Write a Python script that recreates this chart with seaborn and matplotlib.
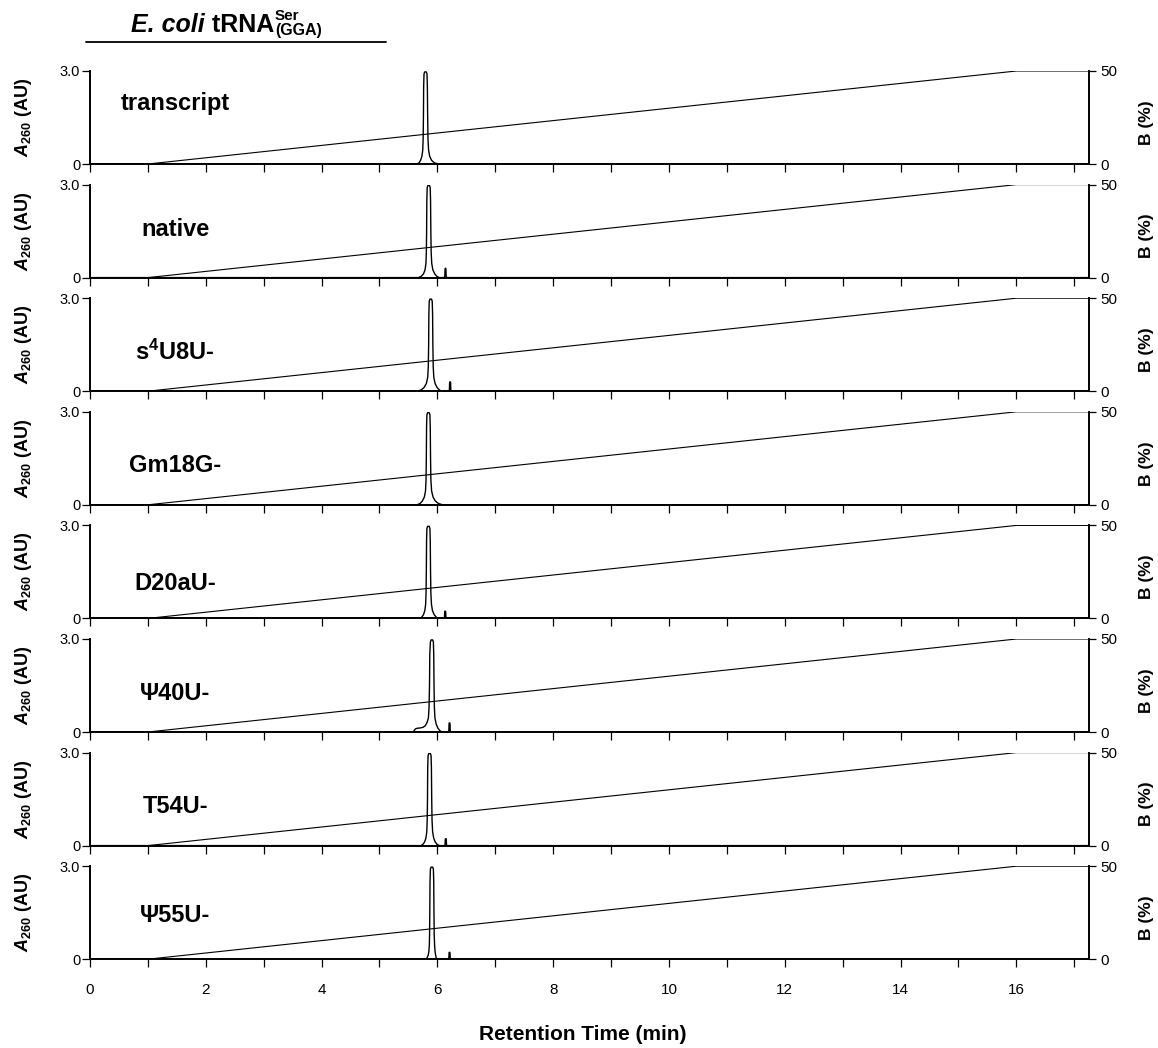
import matplotlib
matplotlib.use("Agg")
import matplotlib.pyplot as plt
import seaborn as sns
import pandas as pd

sns.set_theme(style="ticks")
plt.rcParams["font.family"] = ["Liberation Sans", "DejaVu Sans"]
plt.rcParams["text.color"] = "black"
plt.rcParams["axes.labelcolor"] = "black"
plt.rcParams["xtick.color"] = "black"
plt.rcParams["ytick.color"] = "black"
plt.rcParams["mathtext.fontset"] = "custom"
plt.rcParams["mathtext.rm"] = "Liberation Sans"
plt.rcParams["mathtext.it"] = "Liberation Sans:italic"
plt.rcParams["mathtext.bf"] = "Liberation Sans:bold"
try:
    plt.rcParams["mathtext.bfit"] = "Liberation Sans:bold:italic"
except KeyError:
    pass

# ---------------- data ----------------
sample_names = ["transcript", "native", r"s$^{\mathbf{4}}$U8U-", "Gm18G-",
                "D20aU-", "Ψ40U-", "T54U-", "Ψ55U-"]
label_y = [1.96, 1.54, 1.24, 1.27, 1.13, 1.24, 1.27, 1.40]

gradient_time = [0.0, 1.0, 16.0, 17.26]
gradient_B = [0, 0, 50, 50]

transcript_t = [0.0, 5.645, 5.685, 5.71, 5.733, 5.747, 5.754, 5.759, 5.763, 5.769, 5.781,
                5.809, 5.821, 5.827, 5.832, 5.838, 5.848, 5.867, 5.90, 5.945, 6.02, 17.26]
transcript_a = [0, 0, 0.04, 0.12, 0.25, 0.45, 0.8, 1.5, 2.5, 2.9, 2.97,
                2.97, 2.9, 2.5, 1.5, 0.8, 0.45, 0.25, 0.12, 0.04, 0, 0]

native_t = [0.0, 5.67, 5.72, 5.76, 5.787, 5.802, 5.809, 5.814, 5.818, 5.824, 5.836,
            5.864, 5.876, 5.882, 5.887, 5.893, 5.903, 5.922, 5.955, 5.99, 6.035,
            6.115, 6.128, 6.132, 6.136, 6.144, 6.148, 6.152, 6.165, 17.26]
native_a = [0, 0, 0.04, 0.12, 0.25, 0.45, 0.8, 1.5, 2.5, 2.9, 2.97,
            2.97, 2.9, 2.5, 1.5, 0.8, 0.45, 0.25, 0.12, 0.04, 0,
            0, 0.04, 0.25, 0.30, 0.30, 0.25, 0.04, 0, 0]

s4U8U_t = [0.0, 5.645, 5.72, 5.77, 5.81, 5.833, 5.843, 5.849, 5.853, 5.859, 5.871,
           5.899, 5.911, 5.917, 5.922, 5.928, 5.938, 5.96, 5.995, 6.035, 6.075,
           6.20, 6.208, 6.211, 6.214, 6.226, 6.229, 6.232, 6.24, 17.26]
s4U8U_a = [0, 0, 0.04, 0.12, 0.25, 0.45, 0.8, 1.5, 2.5, 2.9, 2.97,
           2.97, 2.9, 2.5, 1.5, 0.8, 0.45, 0.25, 0.12, 0.04, 0,
           0, 0.05, 0.24, 0.30, 0.30, 0.24, 0.05, 0, 0]

Gm18G_t = [0.0, 5.645, 5.70, 5.74, 5.775, 5.795, 5.804, 5.809, 5.813, 5.819, 5.831,
           5.859, 5.871, 5.877, 5.882, 5.888, 5.90, 5.925, 5.965, 6.02, 6.09, 17.26]
Gm18G_a = [0, 0, 0.04, 0.12, 0.25, 0.45, 0.8, 1.5, 2.5, 2.9, 2.97,
           2.97, 2.9, 2.5, 1.5, 0.8, 0.45, 0.25, 0.12, 0.04, 0, 0]

D20aU_t = [0.0, 5.69, 5.73, 5.76, 5.783, 5.797, 5.804, 5.809, 5.813, 5.819, 5.831,
           5.859, 5.871, 5.877, 5.882, 5.888, 5.898, 5.915, 5.945, 5.98, 6.02,
           6.115, 6.123, 6.126, 6.129, 6.141, 6.144, 6.147, 6.155, 17.26]
D20aU_a = [0, 0, 0.04, 0.12, 0.25, 0.45, 0.8, 1.5, 2.5, 2.9, 2.97,
           2.97, 2.9, 2.5, 1.5, 0.8, 0.45, 0.25, 0.12, 0.04, 0,
           0, 0.04, 0.18, 0.23, 0.23, 0.18, 0.04, 0, 0]

Psi40U_t = [0.0, 5.585, 5.60, 5.62, 5.65, 5.70, 5.75, 5.79, 5.82, 5.845, 5.856, 5.864,
            5.869, 5.879, 5.891, 5.919, 5.931, 5.937, 5.942, 5.948, 5.958, 5.98, 6.01,
            6.045, 6.075, 6.19, 6.198, 6.201, 6.204, 6.216, 6.219, 6.222, 6.23, 17.26]
Psi40U_a = [0, 0, 0.05, 0.10, 0.12, 0.13, 0.15, 0.2, 0.3, 0.45, 0.8, 1.5,
            2.5, 2.9, 2.97, 2.97, 2.9, 2.5, 1.5, 0.8, 0.45, 0.25, 0.12,
            0.04, 0, 0, 0.05, 0.23, 0.29, 0.29, 0.23, 0.05, 0, 0]

T54U_t = [0.0, 5.715, 5.75, 5.78, 5.803, 5.817, 5.824, 5.829, 5.833, 5.839, 5.851,
          5.879, 5.891, 5.897, 5.902, 5.908, 5.918, 5.935, 5.962, 5.995, 6.035,
          6.125, 6.133, 6.136, 6.139, 6.151, 6.154, 6.157, 6.165, 17.26]
T54U_a = [0, 0, 0.04, 0.12, 0.25, 0.45, 0.8, 1.5, 2.5, 2.9, 2.97,
          2.97, 2.9, 2.5, 1.5, 0.8, 0.45, 0.25, 0.12, 0.04, 0,
          0, 0.04, 0.17, 0.22, 0.22, 0.17, 0.04, 0, 0]

Psi55U_t = [0.0, 5.79, 5.82, 5.84, 5.853, 5.861, 5.865, 5.869, 5.873, 5.879, 5.891,
            5.919, 5.931, 5.937, 5.941, 5.945, 5.952, 5.96, 5.97, 5.98, 5.99,
            6.19, 6.198, 6.201, 6.204, 6.216, 6.219, 6.222, 6.23, 17.26]
Psi55U_a = [0, 0, 0.04, 0.12, 0.25, 0.45, 0.8, 1.5, 2.5, 2.9, 2.97,
            2.97, 2.9, 2.5, 1.5, 0.8, 0.45, 0.25, 0.12, 0.04, 0,
            0, 0.04, 0.17, 0.22, 0.22, 0.17, 0.04, 0, 0]

traces_t = [transcript_t, native_t, s4U8U_t, Gm18G_t, D20aU_t, Psi40U_t, T54U_t, Psi55U_t]
traces_a = [transcript_a, native_a, s4U8U_a, Gm18G_a, D20aU_a, Psi40U_a, T54U_a, Psi55U_a]

x_ticks = list(range(0, 18))
x_ticklabels = [str(v) if v % 2 == 0 else "" for v in x_ticks]

# ---------------- figure ----------------
W, H = 1158, 1048
fig = plt.figure(figsize=(W / 100, H / 100), dpi=100)
fig.patch.set_facecolor("white")

left_px, right_px = 90, 1089.3
top0_px, step_px, hgt_px = 71.0, 113.6, 93.0
spine_lw = 1.4

for i in range(8):
    top = top0_px + i * step_px
    bottom = top + hgt_px
    ax = fig.add_axes([left_px / W, 1 - bottom / H, (right_px - left_px) / W, hgt_px / H])
    ax.set_facecolor("none")
    df = pd.DataFrame({"t": traces_t[i], "a": traces_a[i]})
    sns.lineplot(data=df, x="t", y="a", ax=ax, color="black", lw=1.0,
                 estimator=None, sort=False)
    ax.set_xlim(0, 17.26)
    ax.set_ylim(0, 3.0)
    ax.set_yticks([0, 3.0])
    ax.set_yticklabels(["0", "3.0"])
    ax.set_xticks(x_ticks)
    if i == 7:
        ax.set_xticklabels(x_ticklabels)
    else:
        ax.set_xticklabels([""] * len(x_ticks))
    ax.set_xlabel("")
    ax.set_ylabel("")
    ax.tick_params(axis="y", direction="out", length=6, width=0.9, pad=1,
                   labelsize=10.5, colors="black")
    ax.tick_params(axis="x", direction="out", length=6, width=0.9, pad=11,
                   labelsize=11, colors="black")
    for s in ["top", "right"]:
        ax.spines[s].set_visible(False)
    for s in ["left", "bottom"]:
        ax.spines[s].set_linewidth(spine_lw)
        ax.spines[s].set_color("black")
    ax.grid(False)

    ax2 = ax.twinx()
    sns.lineplot(x=gradient_time, y=gradient_B, ax=ax2, color="black", lw=0.8,
                 estimator=None, sort=False)
    ax2.set_ylim(0, 50)
    ax2.set_yticks([0, 50])
    ax2.set_yticklabels(["0", "50"])
    ax2.set_ylabel("")
    ax2.tick_params(axis="y", direction="out", length=5, width=0.9, pad=3,
                    labelsize=11, colors="black")
    for s in ["top", "left", "bottom"]:
        ax2.spines[s].set_visible(False)
    ax2.spines["right"].set_linewidth(spine_lw)
    ax2.spines["right"].set_color("black")
    ax2.grid(False)

    ax.text(1.47, label_y[i], sample_names[i], ha="center", va="center",
            fontsize=17, fontweight="bold", color="black")

    mid = (top + bottom) / 2
    fig.text(23 / W, 1 - mid / H, r"$\mathbfit{A}_{\mathbf{260}}$ (AU)", rotation=90,
             ha="center", va="center", fontsize=13, fontweight="bold")
    fig.text(1146 / W, 1 - (mid + 5) / H, "B (%)", rotation=90,
             ha="center", va="center", fontsize=12.5, fontweight="bold")

fig.text(583 / W, 1 - 1035 / H, "Retention Time (min)", ha="center", va="center",
         fontsize=15, fontweight="bold")

# title built from pieces: italic species, bold tRNA, stacked super/subscript
renderer = fig.canvas.get_renderer()
base_y = 1 - 32 / H
t1 = fig.text(131 / W, base_y, "E. coli", ha="left", va="baseline",
              fontsize=18, fontweight="bold", fontstyle="italic")
bb1 = t1.get_window_extent(renderer)
t2 = fig.text(bb1.x1 / W, base_y, " tRNA", ha="left", va="baseline",
              fontsize=18, fontweight="bold")
bb2 = t2.get_window_extent(renderer)
x_sup = bb2.x1 / W + 1 / W
fig.text(x_sup, 1 - 20 / H, "Ser", ha="left", va="baseline",
         fontsize=11, fontweight="bold")
fig.text(x_sup, 1 - 35.5 / H, "(GGA)", ha="left", va="baseline",
         fontsize=11.5, fontweight="bold")
fig.add_artist(plt.Line2D([86 / W, 386 / W], [1 - 42 / H, 1 - 42 / H],
                          color="black", lw=1.3, transform=fig.transFigure))

fig.savefig("out.png", dpi=100)
